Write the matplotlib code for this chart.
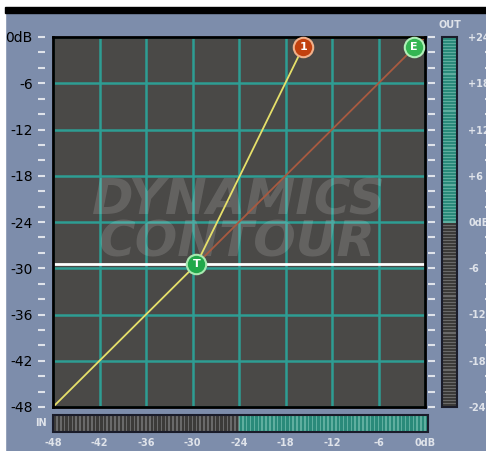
import matplotlib
matplotlib.use('Agg')
import matplotlib.pyplot as plt
from matplotlib.patches import Rectangle
import numpy as np

# dB scales
in_ticks = [-48, -42, -36, -30, -24, -18, -12, -6, 0]
in_labels = ['-48', '-42', '-36', '-30', '-24', '-18', '-12', '-6', '0dB']
out_ticks = [0, -6, -12, -18, -24, -30, -36, -42, -48]
out_labels = ['0dB', '-6', '-12', '-18', '-24', '-30', '-36', '-42', '-48']
meter_ticks = [24, 18, 12, 6, 0, -6, -12, -18, -24]
meter_labels = ['+24', '+18', '+12', '+6', '0dB', '-6', '-12', '-18', '-24']

# transfer curve points
threshold = -29.5
curve_x = [-48, threshold, -15.1, 0]
curve_y = [-48, threshold, 0, 0]
unity_x = [threshold, 0]
unity_y = [threshold, 0]
knee_pt = (-15.7, -1.3)
end_pt = (-1.4, -1.3)

# meter levels
in_level = -24
out_level = 0

BG = '#7d8dab'
PLOT_BG = '#4a4947'
GRID = '#2e9d93'
TXT = '#dfe3ea'
TEAL = '#2a8a7a'
TEAL_LINE = '#5fae9f'
DARK = '#3c3b39'
DARK_LINE = '#6a6a6a'

W, H = 486, 451
fig = plt.figure(figsize=(W / 100, H / 100), dpi=100, facecolor=BG)

def box(x0, y0, x1, y1):
    # pixel box (top-left origin) -> figure fraction rect
    return [x0 / W, 1 - y1 / H, (x1 - x0) / W, (y1 - y0) / H]

# white margins and black top band
fig.patches.append(Rectangle((0, 0), 5 / W, 1, transform=fig.transFigure, color='white', zorder=-5))
fig.patches.append(Rectangle((0, 1 - 7 / H), 1, 7 / H, transform=fig.transFigure, color='white', zorder=-5))
fig.patches.append(Rectangle((5 / W, 1 - 13 / H), 1, 6 / H, transform=fig.transFigure, color='black', zorder=-4))

lab = dict(fontsize=7, fontweight='bold', color=TXT)

# main transfer plot
ax = fig.add_axes(box(53, 37, 425, 407), facecolor=PLOT_BG)
ax.set_xlim(-48, 0)
ax.set_ylim(-48, 0)
ax.set_xticks(in_ticks)
ax.set_yticks(out_ticks)
ax.tick_params(length=0, labelleft=False, labelbottom=False)
ax.grid(True, color=GRID, lw=1.8)
for s in ax.spines.values():
    s.set_color('black')
    s.set_linewidth(2)
    s.set_zorder(6)

ax.text(-24, -21.2, 'DYNAMICS', ha='center', va='center', fontsize=36,
        fontweight='bold', style='italic', color='white', alpha=0.14, zorder=3)
ax.text(-24.3, -26.7, 'CONTOUR', ha='center', va='center', fontsize=36,
        fontweight='bold', style='italic', color='white', alpha=0.14, zorder=3)

ax.axhline(threshold, color='white', lw=2, zorder=4)
ax.plot(unity_x, unity_y, color='#a85a40', lw=1.3, zorder=4)
ax.plot(curve_x, curve_y, color='#e6e06a', lw=1.3, zorder=5, clip_on=False)

def marker(x, y, txt, face, edge):
    ax.plot(x, y, 'o', ms=14, mfc=face, mec=edge, mew=1.5, zorder=7, clip_on=False)
    ax.text(x, y, txt, ha='center', va='center', color='white', fontsize=8,
            fontweight='bold', zorder=8)

marker(threshold, threshold, 'T', '#21a84a', '#a8e8b0')
marker(knee_pt[0], knee_pt[1], '1', '#c2410f', '#f2b08a')
marker(end_pt[0], end_pt[1], 'E', '#34b653', '#b0f0b8')

# left scale
axl = fig.add_axes(box(53, 37, 425, 407), frameon=False)
axl.set_ylim(-48, 0)
axl.set_xticks([])
axl.set_yticks(out_ticks)
axl.set_yticklabels(out_labels, **lab)
axl.set_yticks(np.arange(-48, 1, 2), minor=True)
axl.spines['left'].set_position(('outward', 6))
axl.tick_params(axis='y', which='both', length=5, width=1.5, color=TXT, pad=3.5)
axl.patch.set_alpha(0)

# output meter
axm = fig.add_axes(box(442, 37, 457, 407), facecolor=DARK_LINE)
axm.set_ylim(-24, 24)
axm.set_xlim(0, 1)
seg = np.arange(-24, 24, 0.4) + 0.2
lit = seg > out_level
axm.axhspan(out_level, 24, color=TEAL_LINE, zorder=0)
axm.barh(seg, 1, height=0.26, left=0, color=np.where(lit, TEAL, DARK), zorder=1)
axm.set_xticks([])
axm.set_yticks(np.arange(-24, 25, 2))
axm.yaxis.set_ticks_position('left')
axm.set_yticklabels([])
axm.spines['left'].set_position(('outward', 5))
axm.tick_params(axis='y', length=5, width=1.5, color=TXT)
axm.text(0.5, 1.032, 'OUT', transform=axm.transAxes, ha='center', va='center', **lab)
for s in axm.spines.values():
    s.set_visible(False)
axm.add_patch(Rectangle((0, 0), 1, 1, transform=axm.transAxes, fill=False,
                        ec='#1a1c2a', lw=1.5, zorder=5, clip_on=False))

# right labels of the meter
axr = fig.add_axes(box(442, 37, 457, 407), frameon=False)
axr.set_ylim(-24, 24)
axr.set_xticks([])
axr.yaxis.set_ticks_position('right')
axr.set_yticks(meter_ticks)
axr.set_yticklabels(meter_labels, **lab)
axr.tick_params(axis='y', which='major', length=0, pad=8)
axr.patch.set_alpha(0)

axd = fig.add_axes(box(442, 37, 457, 407), frameon=False)
axd.set_ylim(-24, 24)
axd.set_xticks([])
axd.yaxis.set_ticks_position('right')
minor_pos = [v for v in range(-24, 25, 2) if v not in meter_ticks]
axd.set_yticks(minor_pos)
axd.set_yticklabels([])
axd.spines['right'].set_position(('outward', 20))
axd.tick_params(axis='y', length=6, width=1.5, color=TXT)
axd.patch.set_alpha(0)

# input meter
axi = fig.add_axes(box(53, 415, 428, 432), facecolor=DARK_LINE)
axi.set_xlim(-48, 0.4)
axi.set_ylim(0, 1)
segx = np.arange(-48, 0.4, 0.5) + 0.25
litx = segx > in_level
axi.axvspan(in_level, 0.4, color=TEAL_LINE, zorder=0)
axi.bar(segx, 1, width=0.3, bottom=0, color=np.where(litx, TEAL, DARK), zorder=1)
axi.set_yticks([])
axi.set_xticks(in_ticks)
axi.set_xticklabels(in_labels, **lab)
axi.tick_params(axis='x', length=0, pad=4)
for s in axi.spines.values():
    s.set_visible(False)
axi.add_patch(Rectangle((0, 0), 1, 1, transform=axi.transAxes, fill=False,
                        ec='#1a1c2a', lw=1.5, zorder=5, clip_on=False))
axi.text(-0.016, 0.5, 'IN', transform=axi.transAxes, ha='right', va='center', **lab)

fig.savefig('out.png', dpi=100, facecolor=BG)
